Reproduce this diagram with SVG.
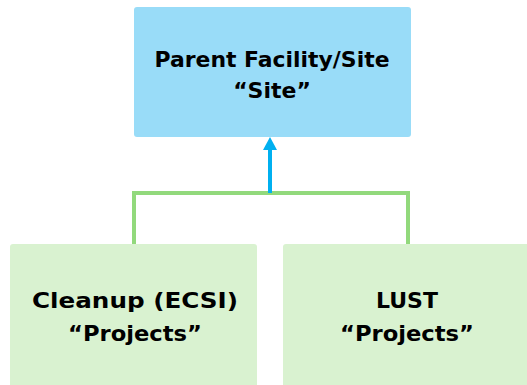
<svg xmlns="http://www.w3.org/2000/svg" width="527" height="385" viewBox="0 0 527 385">
<style>
text{font-family:"DejaVu Sans","Liberation Sans",sans-serif;font-weight:bold;font-size:22px;fill:#000;text-anchor:middle}
.site{fill:#99dcf8}
.proj{fill:#d9f2d0}
.bracket{fill:none;stroke:#92d97c;stroke-width:4}
.arrow{stroke:#00b0f0;stroke-width:4;fill:none}
</style>
<g id="connectors">
<path class="bracket" d="M134,244 V193 H408 V244"/>
<line class="arrow" x1="270" y1="193" x2="270" y2="149"/>
<path d="M263,150 L270,137 L277,150 Z" fill="#00b0f0"/>
</g>
<g id="site">
<rect class="site" x="134" y="7" width="277" height="130" rx="3"/>
<text x="272" y="67" textLength="235" lengthAdjust="spacingAndGlyphs">Parent Facility/Site</text>
<text x="272" y="98">“Site”</text>
</g>
<g id="cleanup">
<rect class="proj" x="10" y="244" width="247" height="145" rx="3"/>
<text x="135" y="308" textLength="206" lengthAdjust="spacingAndGlyphs">Cleanup (ECSI)</text>
<text x="135" y="341" textLength="134" lengthAdjust="spacingAndGlyphs">“Projects”</text>
</g>
<g id="lust">
<rect class="proj" x="283" y="244" width="250" height="145" rx="3"/>
<text x="407" y="308">LUST</text>
<text x="407" y="341" textLength="134" lengthAdjust="spacingAndGlyphs">“Projects”</text>
</g>
</svg>
